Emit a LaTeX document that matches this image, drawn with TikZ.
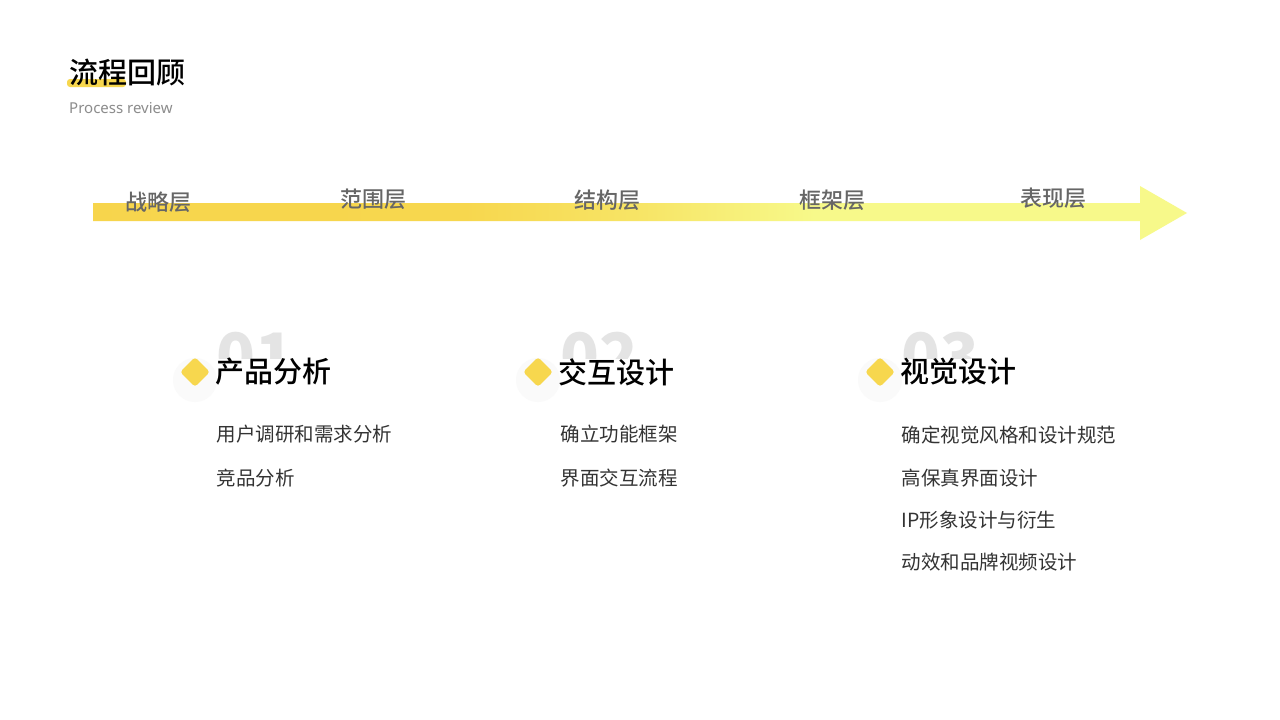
\documentclass[tikz,border=0pt]{standalone}
\usepackage{fontspec}
\setmainfont{Noto Sans CJK SC}
\newfontfamily\medf{Noto Sans CJK SC Medium}
\newfontfamily\latinf{Noto Sans}
\definecolor{ylw}{HTML}{F7D74E}
\definecolor{lyl}{HTML}{F7F98A}
\definecolor{txt}{HTML}{333333}
\definecolor{lbl}{HTML}{666666}
\definecolor{numc}{HTML}{E4E4E4}
\pgfdeclarehorizontalshading{barshade}{100bp}{color(0bp)=(ylw!95!orange); color(42bp)=(ylw); color(50bp)=(ylw!60!lyl); color(58bp)=(lyl); color(100bp)=(lyl)}
\tikzset{
  lab/.style={font=\fontsize{22}{24}\selectfont\medf, text=lbl, anchor=center},
  head/.style={font=\fontsize{29}{32}\selectfont\medf, text=black, anchor=west},
  item/.style={font=\fontsize{19.5}{21}\selectfont, text=txt, anchor=west},
  dia/.style={fill=ylw, rounded corners=3pt, minimum size=21pt, rotate=45, inner sep=0pt},
  num/.style={font=\fontsize{64}{64}\selectfont\bfseries, text=numc, anchor=west},
}
\begin{document}
\begin{tikzpicture}[x=1pt,y=-1pt]
\useasboundingbox (0,0) rectangle (1280,720);
\fill[white] (0,0) rectangle (1280,720);
% title
\fill[ylw, rounded corners=3pt] (67,79) rectangle (126,87);
\node[anchor=west, font=\fontsize{29}{32}\selectfont\medf, inner sep=0pt] (title) at (69,73) {流程回顾};
\node[anchor=west, font=\fontsize{15}{17}\selectfont\latinf, text=black!45, inner sep=0pt] (sub) at (69,108) {Process review};
% arrow
\shade[shading=barshade] (93,203) -- (1140,203) -- (1140,186) -- (1187,213) -- (1140,240) -- (1140,221) -- (93,221) -- cycle;
\node[lab] (l1) at (158,202) {战略层};
\node[lab] (l2) at (373,199) {范围层};
\node[lab] (l3) at (607,200) {结构层};
\node[lab] (l4) at (832,200) {框架层};
\node[lab] (l5) at (1053,198) {表现层};
% numbers (clipped)
\begin{scope}
\clip (0,300) rectangle (1280,358);
\node[num] (n1) at (213,356) {01};
\node[num] (n2) at (557,356) {02};
\node[num] (n3) at (898,356) {03};
\end{scope}
\foreach \x in {195,538,880}{
  \fill[black!2] (\x,380) circle (22pt);
}
\node[dia] (d1) at (195,372) {};
\node[dia] (d2) at (538,372) {};
\node[dia] (d3) at (880,372) {};
\node[head] (h1) at (212,372) {产品分析};
\node[head] (h2) at (555,372) {交互设计};
\node[head] (h3) at (897,372) {视觉设计};
\node[item] (a1) at (213,434) {用户调研和需求分析};
\node[item] (a2) at (213,478) {竞品分析};
\node[item] (b1) at (557,434) {确立功能框架};
\node[item] (b2) at (557,478) {界面交互流程};
\node[item] (c1) at (898,435) {确定视觉风格和设计规范};
\node[item] (c2) at (898,478) {高保真界面设计};
\node[item] (c3) at (898,520) {IP形象设计与衍生};
\node[item] (c4) at (898,562) {动效和品牌视频设计};
\end{tikzpicture}
\end{document}
